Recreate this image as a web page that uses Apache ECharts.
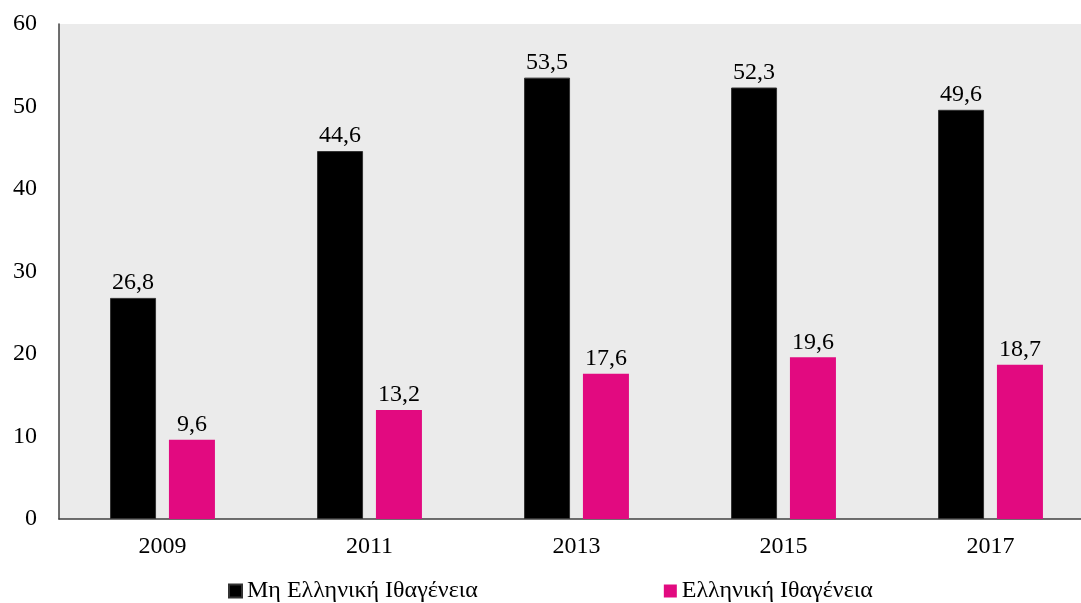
<!DOCTYPE html>
<html><head><meta charset="utf-8">
<script src="https://cdn.jsdelivr.net/npm/echarts@6/dist/echarts.min.js"></script>
<style>html,body{margin:0;padding:0;background:#fff}#c{width:1081px;height:603px}</style>
</head><body><div id="c"></div>
<script>
const categories = ['2009','2011','2013','2015','2017'];
const nonGreek = [26.8, 44.6, 53.5, 52.3, 49.6];
const greek = [9.6, 13.2, 17.6, 19.6, 18.7];
const seriesNames = ['Μη Ελληνική Ιθαγένεια', 'Ελληνική Ιθαγένεια'];
const yTicks = [0, 10, 20, 30, 40, 50, 60];

const FONT = 'Liberation Serif';
const FS = 24;
const chart = echarts.init(document.getElementById('c'));
const lbl = {
  show: true, position: 'top', distance: 3,
  color: '#000', fontFamily: FONT, fontSize: FS,
  formatter: p => String(p.value).replace('.', ',')
};
chart.setOption({
  animation: false,
  textStyle: { fontFamily: FONT },
  grid: { left: 59, width: 1035, top: 24, bottom: 84, outerBoundsMode: 'none', containLabel: false,
          show: true, backgroundColor: '#ebebeb', borderWidth: 0 },
  legend: {
    left: 223, top: 574, itemWidth: 13, itemHeight: 13, itemGap: 186,
    icon: 'rect',
    textStyle: { fontFamily: FONT, fontSize: FS, color: '#000', padding: [0,0,0,0] },
    data: seriesNames
  },
  xAxis: {
    type: 'category', data: categories,
    axisLine: { lineStyle: { color: '#404040', width: 1.5 } },
    axisTick: { show: false },
    axisLabel: { color: '#000', fontFamily: FONT, fontSize: FS, margin: 16 }
  },
  yAxis: {
    type: 'value', min: yTicks[0], max: yTicks[yTicks.length-1], interval: 10,
    axisLine: { show: true, lineStyle: { color: '#404040', width: 1.5 } },
    axisTick: { show: false },
    splitLine: { show: false },
    axisLabel: { color: '#000', fontFamily: FONT, fontSize: FS, margin: 22 }
  },
  series: [
    { name: seriesNames[0], type: 'bar', data: nonGreek, barWidth: 46, barGap: '28%',
      itemStyle: { color: '#000', borderColor: '#333', borderWidth: 1 }, label: lbl },
    { name: seriesNames[1], type: 'bar', data: greek, barWidth: 46,
      itemStyle: { color: '#e20a80' }, label: lbl }
  ]
});
</script></body></html>
